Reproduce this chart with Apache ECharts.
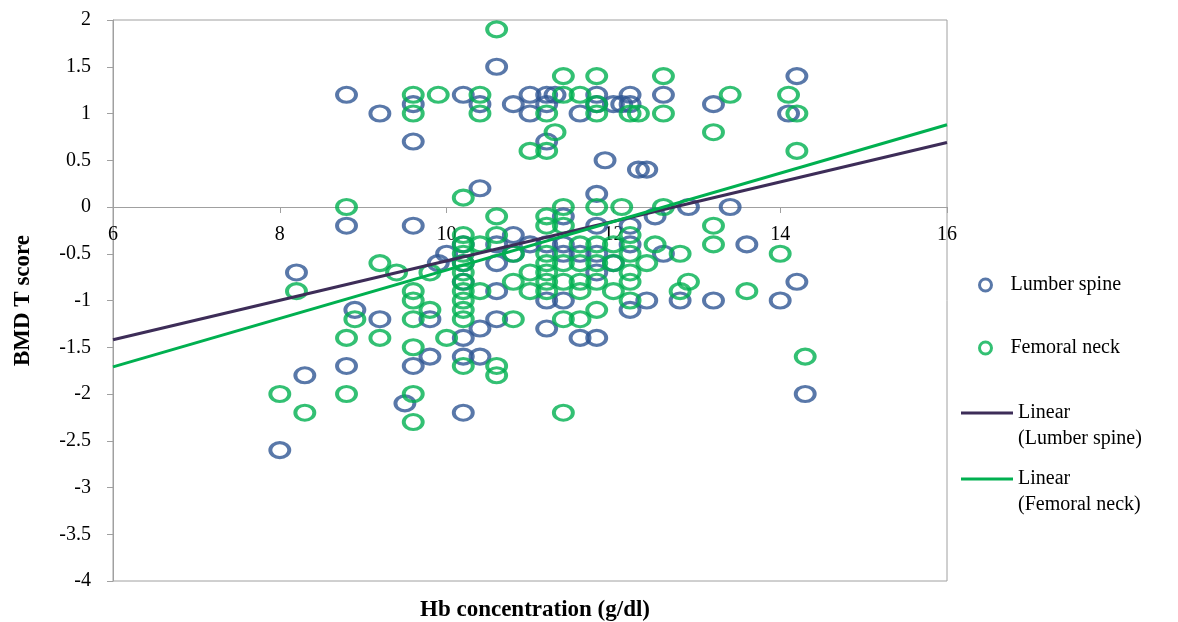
<!DOCTYPE html>
<html>
<head>
<meta charset="utf-8">
<title>BMD T score vs Hb</title>
<script src="https://cdn.jsdelivr.net/npm/echarts@6/dist/echarts.min.js"></script>
<style>
  html, body { margin: 0; padding: 0; background: #fff; }
  #chart { width: 1178px; height: 622px; }
</style>
</head>
<body>
<div id="chart"></div>
<script>
// [Hb, T score]
var lumberPoints = [
  [8.0, -2.6], [8.2, -0.7], [8.3, -1.8], [8.8, 1.2], [8.8, -0.2], [8.8, -1.7], [8.9, -1.1],
  [9.2, 1.0], [9.2, -1.2], [9.5, -2.1], [9.6, 1.1], [9.6, 0.7], [9.6, -0.2], [9.6, -1.7],
  [9.8, -1.2], [9.8, -1.6], [9.9, -0.6], [10.0, -0.5],
  [10.2, 1.2], [10.2, -0.4], [10.2, -0.6], [10.2, -0.8], [10.2, -1.4], [10.2, -1.6], [10.2, -2.2],
  [10.4, 1.1], [10.4, 0.2], [10.4, -1.3], [10.4, -1.6],
  [10.6, 1.5], [10.6, -0.4], [10.6, -0.6], [10.6, -0.9], [10.6, -1.2],
  [10.8, 1.1], [10.8, -0.3], [10.8, -0.5],
  [11.0, 1.2], [11.0, 1.0], [11.0, -0.4],
  [11.2, 1.2], [11.2, 1.1], [11.2, 0.7], [11.2, -0.4], [11.2, -1.0], [11.2, -1.3], [11.3, 1.2],
  [11.4, -0.1], [11.4, -0.4], [11.4, -0.5], [11.4, -1.0],
  [11.6, 1.0], [11.6, -0.5], [11.6, -1.4],
  [11.8, 1.2], [11.8, 1.1], [11.8, 0.14], [11.8, -0.2], [11.8, -0.5], [11.8, -0.7], [11.8, -1.4],
  [11.9, 0.5], [12.0, 1.1], [12.0, -0.6], [12.1, 1.1],
  [12.2, 1.2], [12.2, 1.1], [12.2, -0.2], [12.2, -0.4], [12.2, -1.1],
  [12.3, 0.4], [12.4, 0.4], [12.4, -1.0], [12.5, -0.1], [12.6, 1.2], [12.6, -0.5],
  [12.8, -1.0], [12.9, 0], [13.2, 1.1], [13.2, -1.0], [13.4, 0], [13.6, -0.4],
  [14.0, -1.0], [14.1, 1.0], [14.2, 1.4], [14.2, -0.8], [14.3, -2.0]
]

var femoralPoints = [
  [8.0, -2.0], [8.2, -0.9], [8.3, -2.2], [8.8, 0], [8.8, -1.4], [8.8, -2.0], [8.9, -1.2],
  [9.2, -0.6], [9.2, -1.4], [9.4, -0.7],
  [9.6, 1.2], [9.6, 1.0], [9.6, -0.9], [9.6, -1.0], [9.6, -1.2], [9.6, -1.5], [9.6, -2.0], [9.6, -2.3],
  [9.8, -0.7], [9.8, -1.1], [9.9, 1.2], [10.0, -1.4],
  [10.2, 0.1], [10.2, -0.3], [10.2, -0.4], [10.2, -0.5], [10.2, -0.6], [10.2, -0.7], [10.2, -0.8],
  [10.2, -0.9], [10.2, -1.0], [10.2, -1.1], [10.2, -1.2], [10.2, -1.7],
  [10.4, 1.2], [10.4, 1.0], [10.4, -0.4], [10.4, -0.9],
  [10.6, 1.9], [10.6, -0.1], [10.6, -0.3], [10.6, -1.7], [10.6, -1.8],
  [10.8, -0.5], [10.8, -0.8], [10.8, -1.2],
  [11.0, 0.6], [11.0, -0.7], [11.0, -0.9],
  [11.2, 1.0], [11.2, 0.6], [11.2, -0.1], [11.2, -0.2], [11.2, -0.5], [11.2, -0.6], [11.2, -0.7],
  [11.2, -0.8], [11.2, -0.9], [11.3, 0.8],
  [11.4, 1.4], [11.4, 1.2], [11.4, 0], [11.4, -0.2], [11.4, -0.6], [11.4, -0.8], [11.4, -1.2], [11.4, -2.2],
  [11.6, 1.2], [11.6, -0.4], [11.6, -0.6], [11.6, -0.8], [11.6, -0.9], [11.6, -1.2],
  [11.8, 1.4], [11.8, 1.1], [11.8, 1.0], [11.8, 0], [11.8, -0.4], [11.8, -0.6], [11.8, -0.8], [11.8, -1.1],
  [12.0, -0.4], [12.0, -0.6], [12.0, -0.9], [12.1, 0],
  [12.2, 1.0], [12.2, -0.3], [12.2, -0.5], [12.2, -0.7], [12.2, -0.8], [12.2, -1.0],
  [12.3, 1.0], [12.4, -0.6], [12.5, -0.4], [12.6, 1.4], [12.6, 1.0], [12.6, 0],
  [12.8, -0.5], [12.8, -0.9], [12.9, -0.8],
  [13.2, 0.8], [13.2, -0.2], [13.2, -0.4], [13.4, 1.2], [13.6, -0.9],
  [14.0, -0.5], [14.1, 1.2], [14.2, 1.0], [14.2, 0.6], [14.3, -1.6]
]

// trend line ends, at x = 6 and x = 16
var trendX = [6, 16]
var lumberTrend = [-1.42, 0.69]
var femoralTrend = [-1.71, 0.88]

var blue = '#2f5693'
var green = '#00b050'
var purple = '#3d2d58'
var serif = 'Liberation Serif'

function pairs(xs, ys) {
  return xs.map(function (x, i) { return [x, ys[i]] })
}

// put x axis on y = 0 by shifting it up from the grid bottom
var gridTop = 20, gridBottom = 41, chartH = 622
var yMin = -4, yMax = 2
var plotH = chartH - gridTop - gridBottom
var xAxisOffset = -plotH * (0 - yMin) / (yMax - yMin)

var lineLegendText = { fontFamily: serif, fontSize: 20, lineHeight: 26, color: '#000' }

var chart = echarts.init(document.getElementById('chart'))
chart.setOption({
  animation: false,
  textStyle: { fontFamily: serif },
  grid: {
    left: 113, right: 231, top: gridTop, bottom: gridBottom,
    show: true, borderColor: '#a0a0a0', borderWidth: 1
  },
  title: {
    text: 'Hb concentration (g/dl)',
    left: 530, top: 594, textAlign: 'center',
    textStyle: { fontFamily: serif, fontSize: 23, fontWeight: 'bold', color: '#000' }
  },
  legend: [{
    data: ['Lumber spine', 'Femoral neck'],
    orient: 'vertical', left: 973, top: 270, itemGap: 43,
    itemWidth: 40, itemHeight: 12,
    itemStyle: { borderWidth: 3 },
    textStyle: { fontFamily: serif, fontSize: 20, color: '#000' }
  }, {
    data: ['Linear\n(Lumber spine)'],
    orient: 'vertical', left: 956, top: 369,
    icon: 'rect', itemWidth: 52, itemHeight: 3,
    formatter: function (name) { return ' \n' + name },
    textStyle: lineLegendText
  }, {
    data: ['Linear\n(Femoral neck)'],
    orient: 'vertical', left: 956, top: 435,
    icon: 'rect', itemWidth: 52, itemHeight: 3,
    formatter: function (name) { return ' \n' + name },
    textStyle: lineLegendText
  }],
  xAxis: {
    type: 'value', min: 6, max: 16, interval: 2,
    position: 'bottom', offset: xAxisOffset,
    axisLine: { onZero: false, lineStyle: { color: '#a0a0a0', width: 1 } },
    axisTick: { show: true, length: 6, lineStyle: { color: '#a0a0a0' } },
    axisLabel: { margin: 18, fontSize: 20, color: '#000', fontFamily: serif },
    splitLine: { show: false }
  },
  yAxis: {
    type: 'value', min: yMin, max: yMax, interval: 0.5,
    name: 'BMD T score', nameLocation: 'middle', nameRotate: 90, nameGap: 78,
    nameTextStyle: { fontFamily: serif, fontSize: 23, fontWeight: 'bold', color: '#000' },
    axisLine: { show: true, lineStyle: { color: '#a0a0a0', width: 1 } },
    axisTick: { show: true, length: 6, lineStyle: { color: '#a0a0a0' } },
    axisLabel: { margin: 22, fontSize: 20, color: '#000', fontFamily: serif },
    splitLine: { show: false }
  },
  series: [{
    name: 'Lumber spine', type: 'scatter', data: lumberPoints,
    symbol: 'circle', symbolSize: [19, 15],
    itemStyle: { color: 'rgba(255,255,255,0)', borderColor: blue, borderWidth: 3.5 },
    z: 2
  }, {
    name: 'Femoral neck', type: 'scatter', data: femoralPoints,
    symbol: 'circle', symbolSize: [19, 15],
    itemStyle: { color: 'rgba(255,255,255,0)', borderColor: green, borderWidth: 3.5 },
    z: 3
  }, {
    name: 'Linear\n(Lumber spine)', type: 'line', data: pairs(trendX, lumberTrend),
    symbol: 'none', lineStyle: { color: purple, width: 3 }, itemStyle: { color: purple },
    z: 4
  }, {
    name: 'Linear\n(Femoral neck)', type: 'line', data: pairs(trendX, femoralTrend),
    symbol: 'none', lineStyle: { color: green, width: 3 }, itemStyle: { color: green },
    z: 5
  }]
})
</script>
</body>
</html>
